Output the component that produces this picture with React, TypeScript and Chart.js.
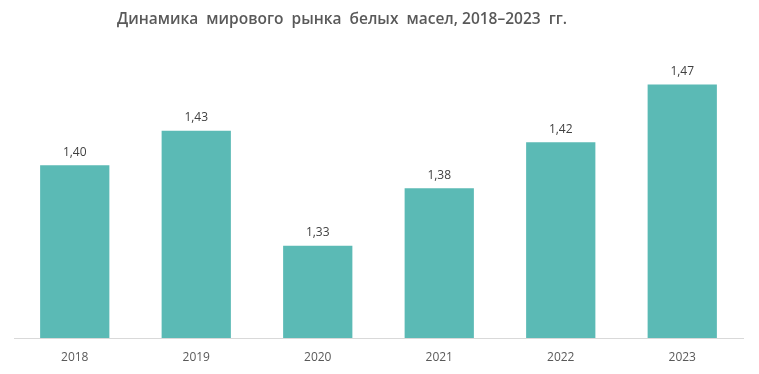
import React, { useEffect, useRef } from "react";
import { Chart, registerables } from "chart.js";

Chart.register(...registerables);

const categories = ["2018", "2019", "2020", "2021", "2022", "2023"];
const values = [1.4, 1.43, 1.33, 1.38, 1.42, 1.47];
const titleText = "Динамика  мирового  рынка  белых  масел, 2018–2023  гг.";

const FONT = "'Open Sans', 'Noto Sans', sans-serif";

const valueLabels = {
  id: "valueLabels",
  afterDatasetsDraw(chart: any) {
    const ctx = chart.ctx;
    const meta = chart.getDatasetMeta(0);
    ctx.save();
    ctx.font = `12px ${FONT}`;
    ctx.fillStyle = "#404040";
    ctx.textAlign = "center";
    ctx.textBaseline = "middle";
    meta.data.forEach((bar: any, i: number) => {
      const v = values[i].toFixed(2).replace(".", ",");
      ctx.fillText(v, bar.x, bar.y - 13);
    });
    ctx.restore();
  },
};

const titlePlugin = {
  id: "customTitle",
  afterDraw(chart: any) {
    const ctx = chart.ctx;
    ctx.save();
    ctx.font = `600 15.5px ${FONT}`;
    ctx.fillStyle = "#595959";
    ctx.textAlign = "center";
    ctx.textBaseline = "middle";
    ctx.fillText(titleText, 342, 20);
    ctx.restore();
  },
};

export default function App() {
  const ref = useRef<HTMLCanvasElement | null>(null);

  useEffect(() => {
    document.body.style.margin = "0";
    if (!ref.current) return;
    const chart = new Chart(ref.current, {
      type: "bar",
      data: {
        labels: categories,
        datasets: [
          {
            data: values,
            backgroundColor: "#5BBAB5",
            borderWidth: 0,
            categoryPercentage: 1,
            barPercentage: 0.57,
          },
        ],
      },
      options: {
        animation: false,
        responsive: false,
        layout: { padding: { left: 14, right: 16, top: 50, bottom: 0 } },
        plugins: {
          legend: { display: false },
          title: { display: false },
          tooltip: { enabled: false },
        },
        scales: {
          x: {
            grid: { display: false, drawTicks: false },
            border: { display: true, color: "#d9d9d9", width: 1 },
            ticks: {
              color: "#595959",
              font: { family: FONT, size: 12 },
              padding: 12,
            },
            afterFit: (scale: any) => {
              scale.height = 36;
            },
          },
          y: {
            display: false,
            min: 1.25,
            max: 1.5,
          },
        },
      },
      plugins: [valueLabels, titlePlugin],
    });
    return () => chart.destroy();
  }, []);

  return (
    <div style={{ width: 759, height: 374 }}>
      <canvas ref={ref} width={759} height={374} style={{ display: "block" }} />
    </div>
  );
}
